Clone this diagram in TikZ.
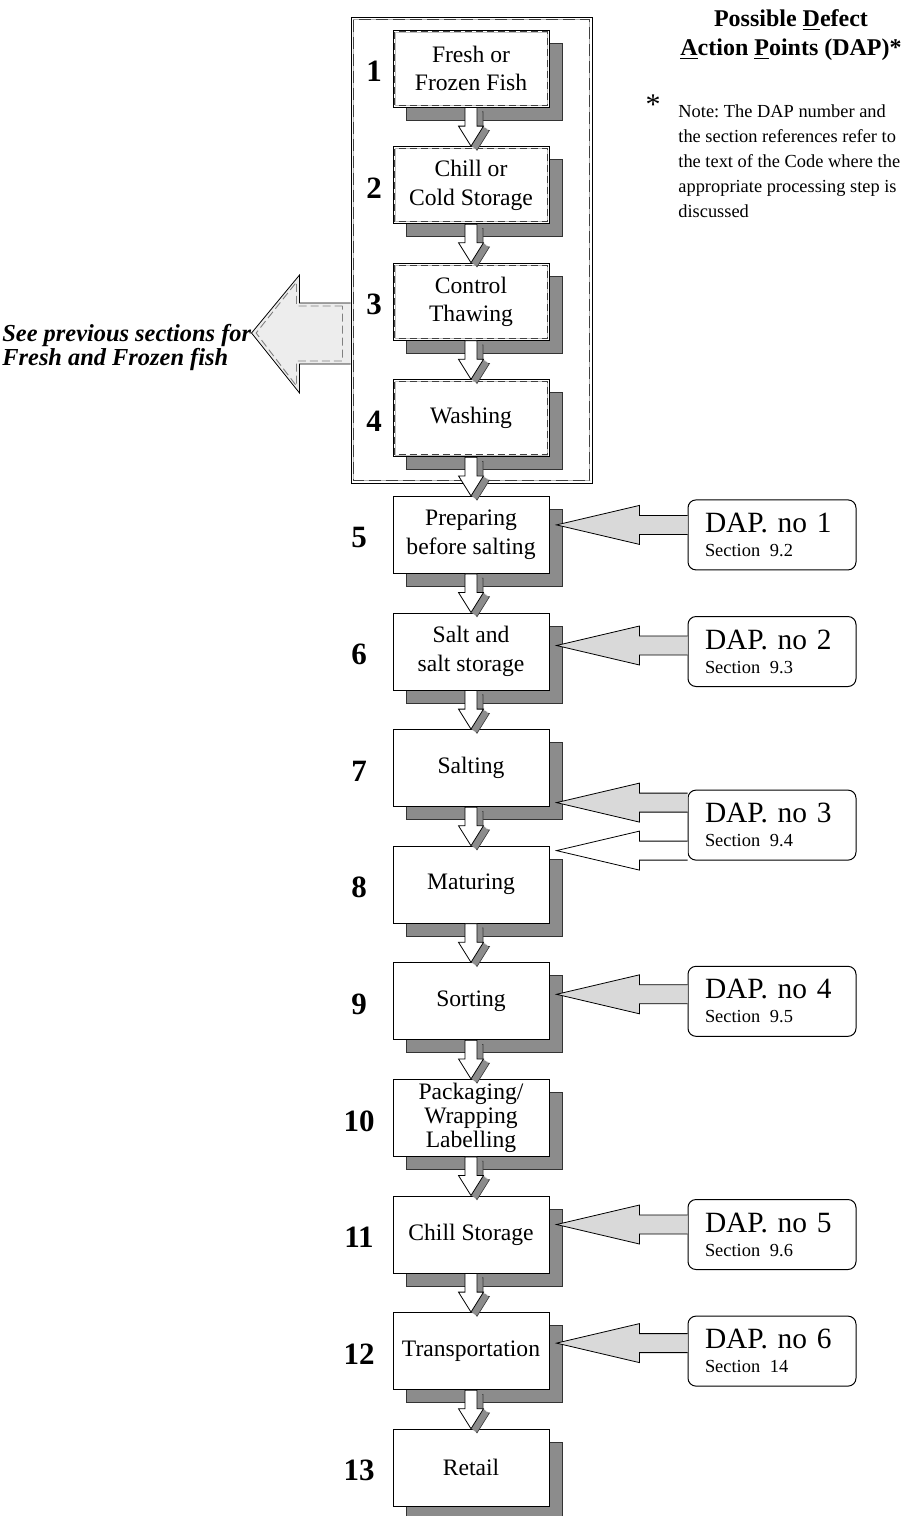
\documentclass[tikz,border=0pt]{standalone}
\usepackage{fontspec}
\setmainfont{Liberation Serif}
\usetikzlibrary{shadows,calc}
\definecolor{shadowgray}{gray}{0.55}
\definecolor{dapgray}{gray}{0.85}
\definecolor{prevgray}{gray}{0.93}
\frenchspacing
\newcommand{\flowShape}[2]{let \p1=(#1.south), \p2=(#2.north) in
  (\x1-3pt,\y1) -- (\x1-3pt,\y2+10pt) -- (\x1-6.25pt,\y2+10pt) -- (\x1,\y2)
  -- (\x1+6.25pt,\y2+10pt) -- (\x1+3pt,\y2+10pt) -- (\x1+3pt,\y1) -- cycle}
\newcommand{\flowArrow}[2]{%
  \fill[shadowgray,draw=black!80,line width=0.3pt,transform canvas={shift={(3pt,-2.1pt)}}] \flowShape{#1}{#2};
  \foreach \k in {5,...,1}
    {\fill[shadowgray,transform canvas={shift={(\k*0.5pt,-\k*0.35pt)}}] \flowShape{#1}{#2};}
  \draw[fill=white,line width=0.4pt] \flowShape{#1}{#2};}
\newcommand{\dapArrow}[4]{%
  \filldraw[fill=#1,line width=0.4pt] let \p1=([yshift=#4]#2.west), \p2=(#3.east) in
    (\x1,\y1+4.75pt) -- (\x2+45pt,\y1+4.75pt) -- (\x2+45pt,\y1+9.75pt) -- (\x2+3.5pt,\y1)
    -- (\x2+45pt,\y1-9.75pt) -- (\x2+45pt,\y1-4.75pt) -- (\x1,\y1-4.75pt);}

\begin{document}
\begin{tikzpicture}[x=0.5pt,y=-0.5pt,
    stepbox/.style={draw,line width=0.5pt,fill=white,minimum width=78pt,minimum height=38.5pt,
      inner sep=0pt,align=center,font=\fontsize{11.8}{14.3}\selectfont,
      drop shadow={shadow xshift=6.5pt,shadow yshift=-6.5pt,fill=shadowgray,draw=black!80,line width=0.4pt,opacity=1}},
    steplbl/.style={font=\bfseries\fontsize{15.5}{15.5}\selectfont,inner sep=0pt},
    dapbox/.style={draw,line width=0.5pt,fill=white,rounded corners=4pt,minimum width=84pt,minimum height=35pt,
      text width=67pt,inner xsep=8.5pt,align=left,font=\fontsize{14.7}{12}\selectfont},
    innerdash/.style={black!75,line width=0.45pt,dash pattern=on 3.5pt off 2pt}]
  \useasboundingbox (0,0) rectangle (906,1516);

  % group of the first four steps
  \node[draw,line width=0.5pt,minimum width=120.5pt,minimum height=233pt,inner sep=0pt] (grp) at (471.5,250) {};
  \draw[gray!60,line width=0.4pt] ([shift={(1.5pt,-1.5pt)}]grp.north west) rectangle ([shift={(-1.5pt,1.5pt)}]grp.south east);
  \draw[innerdash,dash pattern=on 6pt off 2.5pt] ([shift={(1.5pt,-1.5pt)}]grp.north west) rectangle ([shift={(-1.5pt,1.5pt)}]grp.south east);

  \foreach \i/\txt in {1/{Fresh or\\Frozen Fish},2/{Chill or\\Cold Storage},3/{Control\\Thawing},4/Washing,
      5/{Preparing\\before salting},6/{Salt and\\salt storage},7/Salting,8/Maturing,9/Sorting,
      10/{Packaging/\\[-2.4pt]Wrapping\\[-2.4pt]Labelling},11/Chill Storage,12/Transportation,13/Retail}
    \node[stepbox] (s\i) at (471,{68.5+116.6*(\i-1)}) {\txt};

  \foreach \i in {1,...,4} {
    \draw[gray!50,line width=0.4pt] ([shift={(1.2pt,-1.2pt)}]s\i.north west) rectangle ([shift={(-1.2pt,1.2pt)}]s\i.south east);
    \draw[innerdash] ([shift={(1.2pt,-1.2pt)}]s\i.north west) rectangle ([shift={(-1.2pt,1.2pt)}]s\i.south east);
  }

  \foreach \i [evaluate=\i as \nx using {\i<5 ? 374 : 359}] in {1,...,13}
    \node[steplbl] (n\i) at (\nx,{71.5+116.6*(\i-1)}) {\i};

  \foreach \i [evaluate=\i as \j using {int(\i+1)}] in {1,...,12}
    {\flowArrow{s\i}{s\j}}

  \foreach \d/\s/\sec in {1/5/9.2,2/6/9.3,4/9/9.5,5/11/9.6,6/12/14}
    \node[dapbox] (d\d) at (s\s -| 772,0) {DAP. no \d\\{\fontsize{9.2}{12}\selectfont Section~\sec}};
  \node[dapbox,yshift=-28.5pt] (d3) at (s7 -| 772,0) {DAP. no 3\\{\fontsize{9.2}{12}\selectfont Section~9.4}};

  \dapArrow{dapgray}{d1}{s5}{5pt}
  \dapArrow{dapgray}{d2}{s6}{3pt}
  \dapArrow{dapgray}{d3}{s7}{11.25pt}
  \dapArrow{white}{d3}{s8}{-12.75pt}
  \dapArrow{dapgray}{d4}{s9}{3.5pt}
  \dapArrow{dapgray}{d5}{s11}{5pt}
  \dapArrow{dapgray}{d6}{s12}{4pt}

  \node[font=\bfseries\itshape\fontsize{12.2}{10.5}\selectfont,align=left,inner sep=0pt,anchor=north west]
    (prev) at (2,324) {\lineskiplimit=-20pt See previous sections for\\Fresh and Frozen fish};
  \filldraw[fill=prevgray,line width=0.4pt] let \p1=(prev.east |- 0,333), \p2=(grp.west) in
    (\x2,\y1+15pt) -- (\x1+24pt,\y1+15pt) -- (\x1+24pt,\y1+29pt) -- (\x1,\y1)
    -- (\x1+24pt,\y1-30pt) -- (\x1+24pt,\y1-15.5pt) -- (\x2,\y1-15.5pt);
  \draw[gray,line width=0.45pt,dash pattern=on 4pt off 2pt] let \p1=(prev.east |- 0,333), \p2=(grp.west) in
    (\x2-4pt,\y1+13.5pt) -- (\x1+22.5pt,\y1+13.5pt) -- (\x1+22.5pt,\y1+25.5pt) -- (\x1+2.3pt,\y1)
    -- (\x1+22.5pt,\y1-26.5pt) -- (\x1+22.5pt,\y1-14pt) -- (\x2-4pt,\y1-14pt) -- cycle;

  \node[font=\bfseries\fontsize{12}{14.5}\selectfont,align=center] (title) at (791,35)
    {Possible \underline{D}efect\\\underline{A}ction \underline{P}oints (DAP)*};
  \node[font=\fontsize{15}{15}\selectfont,inner sep=0pt] (star) at (653,105) {*};
  \node[font=\fontsize{9.2}{12.6}\selectfont,align=left,inner sep=0pt,anchor=north west] (note) at (678,104)
    {Note: The DAP number and\\the section references refer to\\the text of the Code where the\\appropriate processing step is\\discussed};
\end{tikzpicture}
\end{document}
